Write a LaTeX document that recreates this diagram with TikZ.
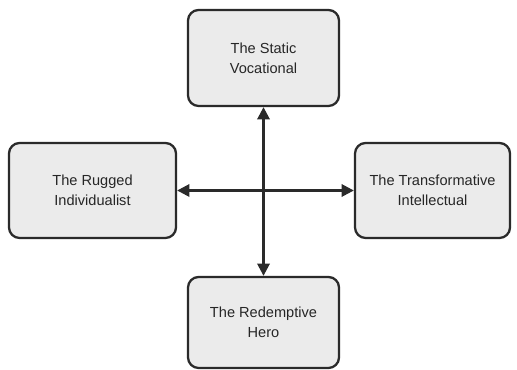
\documentclass[tikz,border=0pt]{standalone}
\usepackage{fontspec}
\setmainfont{Liberation Sans}
\usetikzlibrary{arrows.meta}
\definecolor{boxfill}{HTML}{EBEBEB}
\definecolor{boxline}{HTML}{2A2A2A}
\begin{document}
\begin{tikzpicture}[
    box/.style={draw=boxline,fill=boxfill,line width=1.3pt,rounded corners=6pt,
      align=center,font=\fontsize{8.3}{11.3}\selectfont,text=black!85,inner sep=0pt},
    link/.style={draw=boxline,line width=1.4pt,{Triangle[length=7pt,width=7pt]}-{Triangle[length=7pt,width=7pt]}}]
        \useasboundingbox (0,0) rectangle (10.34,7.4);
        %% four boxes
        \node[box,minimum width=3.02cm,minimum height=1.92cm] (static) at (5.27,6.24) {The Static\\Vocational};
        \node[box,minimum width=3.34cm,minimum height=1.90cm] (rugged) at (1.85,3.59) {The Rugged\\Individualist};
        \node[box,minimum width=3.10cm,minimum height=1.90cm] (transf) at (8.65,3.59) {The Transformative\\Intellectual};
        \node[box,minimum width=3.02cm,minimum height=1.82cm] (hero) at (5.27,0.95) {The Redemptive\\Hero};
        %% arrows
        \draw[link] (static.south) -- (hero.north);
        \draw[link] (rugged.east) -- (transf.west);
    \end{tikzpicture}
\end{document}
